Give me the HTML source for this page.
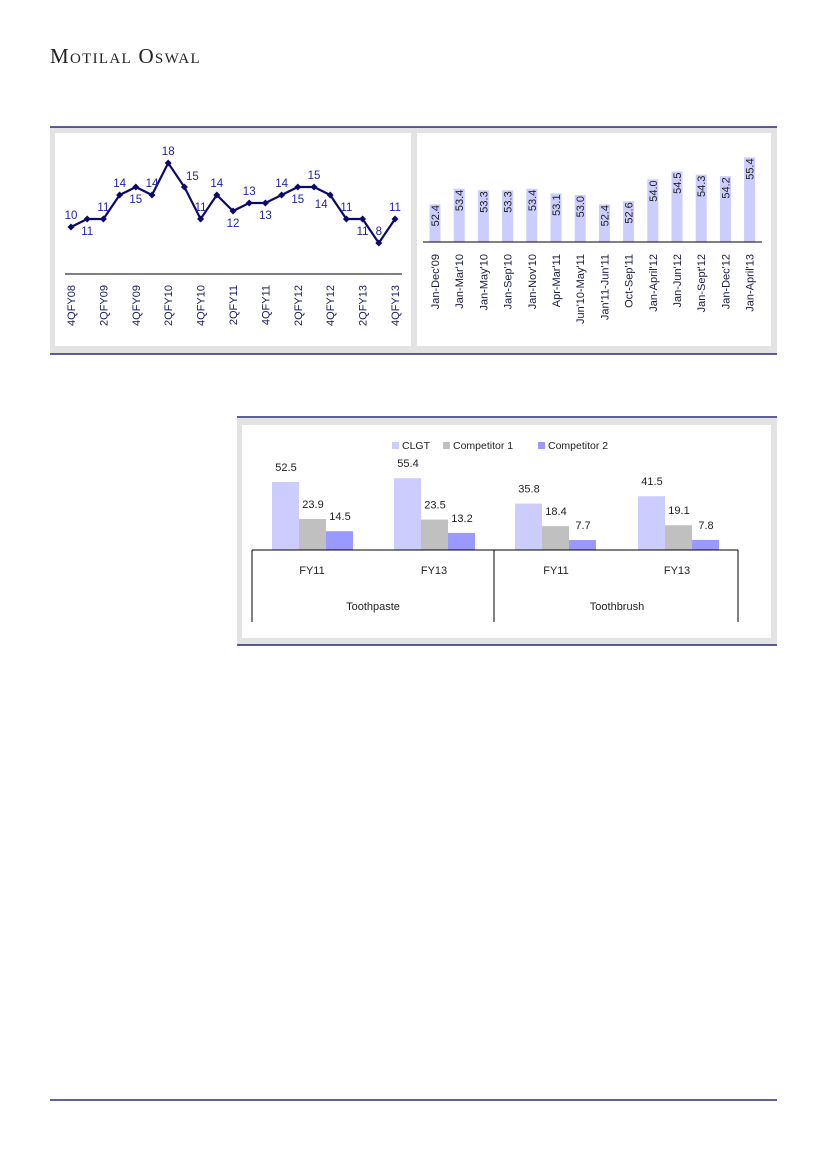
<!DOCTYPE html>
<html><head><meta charset="utf-8"><style>
body{margin:0;background:#fff;width:826px;height:1169px;position:relative;overflow:hidden;font-family:"Liberation Sans",sans-serif}
.hdr{position:absolute;left:50px;top:44px;font-family:"Liberation Serif",serif;font-size:21px;font-variant:small-caps;letter-spacing:1.3px;color:#222}
svg{position:absolute;left:0;top:0}
</style></head><body>
<div class="hdr">Motilal Oswal</div>
<svg width="826" height="1169" font-family="Liberation Sans, sans-serif">
<rect x="50" y="127" width="727" height="227" fill="#e3e3e3"/>
<line x1="50" y1="127" x2="777" y2="127" stroke="#000066" stroke-width="1.2"/>
<line x1="50" y1="354" x2="777" y2="354" stroke="#000066" stroke-width="1.2"/>
<rect x="55" y="133" width="356" height="213" fill="#fff"/>
<rect x="417" y="133" width="354" height="213" fill="#fff"/>
<line x1="65" y1="274" x2="402" y2="274" stroke="#000" stroke-width="1"/>
<g id="lc"></g>
<g id="rb"></g>
<line x1="423" y1="242" x2="762" y2="242" stroke="#000" stroke-width="1"/>
<rect x="237" y="418" width="540" height="227" fill="#e3e3e3"/>
<line x1="237" y1="417" x2="777" y2="417" stroke="#000066" stroke-width="1.2"/>
<line x1="237" y1="645" x2="777" y2="645" stroke="#000066" stroke-width="1.2"/>
<rect x="242" y="425" width="529" height="213" fill="#fff"/>
<g font-size="10.5" fill="#222">
<rect x="392" y="442" width="7" height="7" fill="#ccccff"/><text x="402" y="449">CLGT</text>
<rect x="443" y="442" width="7" height="7" fill="#c0c0c0"/><text x="453" y="449">Competitor 1</text>
<rect x="538" y="442" width="7" height="7" fill="#9999ff"/><text x="548" y="449">Competitor 2</text>
</g>
<g id="bb"></g>
<g stroke="#000" stroke-width="1" fill="none">
<line x1="252" y1="550" x2="738" y2="550"/>
<line x1="252" y1="550" x2="252" y2="622"/>
<line x1="494" y1="550" x2="494" y2="622"/>
<line x1="738" y1="550" x2="738" y2="622"/>
</g>
<g font-size="11" fill="#222" text-anchor="middle">
<text x="312" y="574">FY11</text><text x="434" y="574">FY13</text>
<text x="556" y="574">FY11</text><text x="677" y="574">FY13</text>
<text x="373" y="610">Toothpaste</text><text x="617" y="610">Toothbrush</text>
</g>
<line x1="50" y1="1100" x2="777" y2="1100" stroke="#000066" stroke-width="1.2"/>
</svg>
<script>
const NS="http://www.w3.org/2000/svg";
function el(p,t,a,txt){const e=document.createElementNS(NS,t);for(const k in a)e.setAttribute(k,a[k]);if(txt!=null)e.textContent=txt;p.appendChild(e);return e;}
const v=[10,11,11,14,15,14,18,15,11,14,12,13,13,14,15,15,14,11,11,8,11];
const pos=['a','b','a','a','b','a','a','ar','a','a','b','a','b','a','b','a','bl','a','b','a','a'];
const lc=document.getElementById('lc');
const pts=v.map((y,i)=>[71+i*16.2,163+(18-y)*8]);
el(lc,'polyline',{points:pts.map(p=>p.join(',')).join(' '),fill:'none',stroke:'#0a0a6e','stroke-width':2.2});
pts.forEach((p,i)=>{el(lc,'path',{d:`M${p[0]-3.5},${p[1]}L${p[0]},${p[1]-3.5}L${p[0]+3.5},${p[1]}L${p[0]},${p[1]+3.5}Z`,fill:'#0a0a6e'});
let x=p[0],y=p[1]-8;const q=pos[i];if(q==='b')y=p[1]+16;if(q==='ar'){x+=8;y=p[1]-7}if(q==='bl'){x-=9;y=p[1]+13}
el(lc,'text',{x:x,y:y,'font-size':11.5,fill:'#2222aa','text-anchor':'middle'},v[i]);});
const ql=['4QFY08','2QFY09','4QFY09','2QFY10','4QFY10','2QFY11','4QFY11','2QFY12','4QFY12','2QFY13','4QFY13'];
ql.forEach((t,i)=>{const x=71+i*32.4+4;el(lc,'text',{x:0,y:0,transform:`translate(${x},285) rotate(-90)`,'text-anchor':'end','font-size':11,fill:'#1a1a60'},t);});
const rv=[52.4,53.4,53.3,53.3,53.4,53.1,53.0,52.4,52.6,54.0,54.5,54.3,54.2,55.4];
const rl=["Jan-Dec'09","Jan-Mar'10","Jan-May'10","Jan-Sep'10","Jan-Nov'10","Apr-Mar'11","Jun'10-May'11","Jan'11-Jun'11","Oct-Sep'11","Jan-April'12","Jan-Jun'12","Jan-Sept'12","Jan-Dec'12","Jan-April'13"];
const rb=document.getElementById('rb');
rv.forEach((val,i)=>{const cx=435+i*24.2;const top=242-(val-50)*15.67;
el(rb,'rect',{x:cx-5.5,y:top,width:11,height:242-top,fill:'#ccccff'});
const ty=Math.min(top+1,205);
el(rb,'text',{x:0,y:0,transform:`translate(${cx+4},${ty}) rotate(-90)`,'text-anchor':'end','font-size':11,fill:'#222'},val.toFixed(1));
el(rb,'text',{x:0,y:0,transform:`translate(${cx+4},254) rotate(-90)`,'text-anchor':'end','font-size':11,fill:'#1a1a40'},rl[i]);});
const groups=[[272,[52.5,23.9,14.5]],[394,[55.4,23.5,13.2]],[515,[35.8,18.4,7.7]],[638,[41.5,19.1,7.8]]];
const cols=['#ccccff','#c0c0c0','#9999ff'];
const bb=document.getElementById('bb');
groups.forEach(g=>{g[1].forEach((val,j)=>{const x=g[0]+j*27;const h=val*1.296;
el(bb,'rect',{x:x,y:550-h,width:27,height:h,fill:cols[j]});
el(bb,'text',{x:x+14,y:550-h-11,'text-anchor':'middle','font-size':11,fill:'#222'},val.toFixed(1));});});
</script>
</body></html>
